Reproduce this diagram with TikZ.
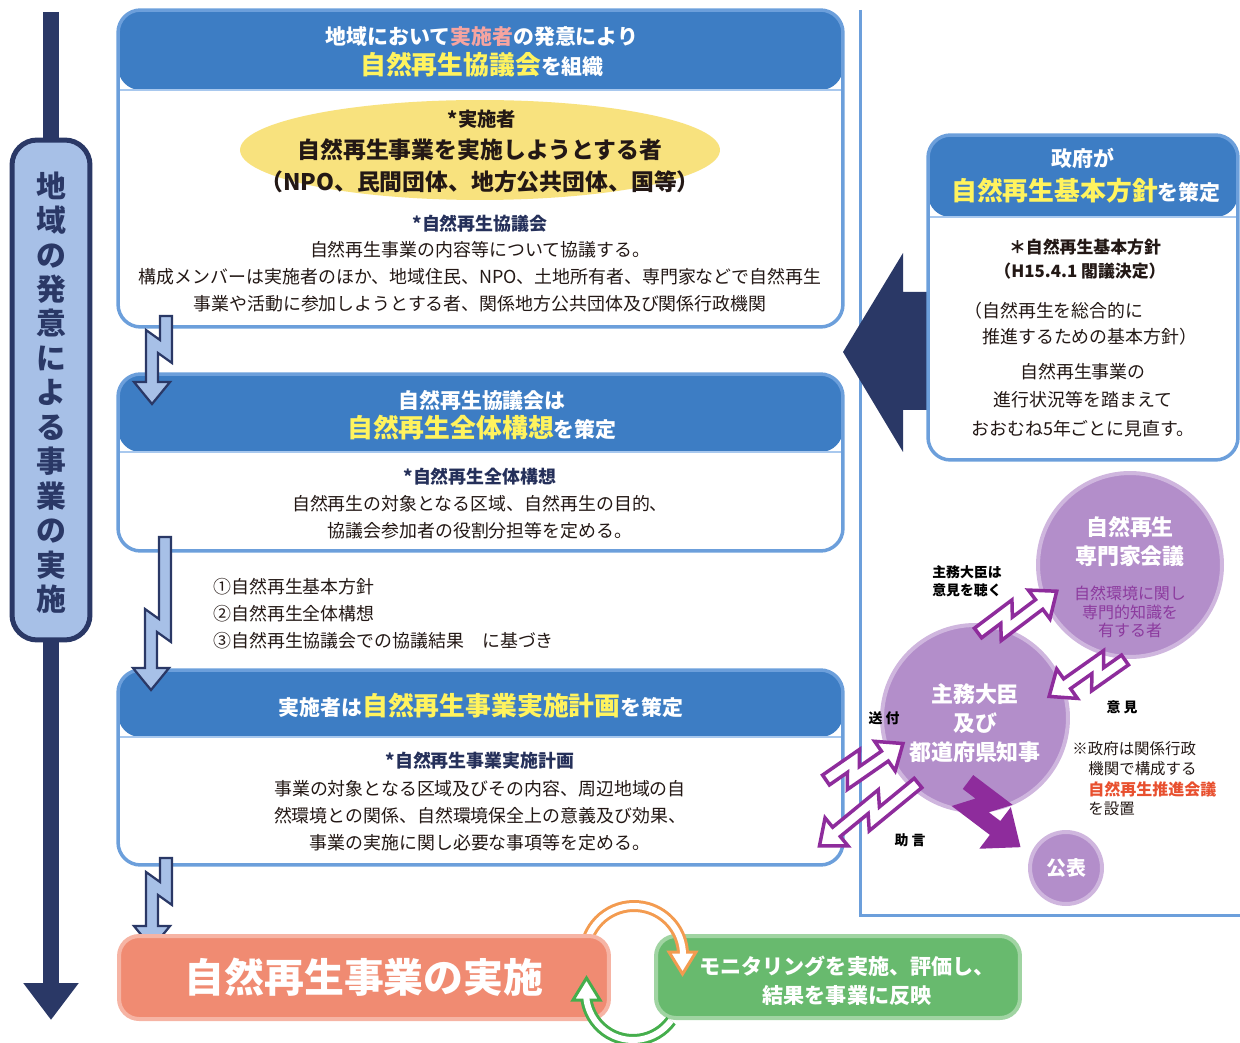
\documentclass[tikz,border=0pt]{standalone}
\usepackage{fontspec}
\setmainfont{Noto Sans CJK JP}
\usetikzlibrary{shapes.geometric,arrows.meta,calc}
\definecolor{navy}{HTML}{2A3866}
\definecolor{hdrblue}{HTML}{3D7DC4}
\definecolor{bord}{HTML}{6C9FDB}
\definecolor{hdrline}{HTML}{A8C8EE}
\definecolor{lblue}{HTML}{A7C0E7}
\definecolor{yel}{HTML}{FFF35E}
\definecolor{pinkt}{HTML}{F6A4A0}
\definecolor{ellyel}{HTML}{F8E27E}
\definecolor{txt}{HTML}{231815}
\definecolor{darknavy}{HTML}{25305A}
\definecolor{salmon}{HTML}{F08B72}
\definecolor{salmonb}{HTML}{F6B4A4}
\definecolor{grn}{HTML}{68BA6E}
\definecolor{grnb}{HTML}{A0D4A2}
\definecolor{circ}{HTML}{B38ECA}
\definecolor{circb}{HTML}{CFB6DE}
\definecolor{purp}{HTML}{8E2C9C}
\definecolor{purpt}{HTML}{8C3A9E}
\definecolor{redt}{HTML}{E8502F}
\definecolor{orarr}{HTML}{F39B50}
\definecolor{grarr}{HTML}{45AE4C}
\newcommand\ytext[1]{{\fontsize{14.7}{16}\selectfont\textcolor{yel}{#1}}}
\tikzset{
 pics/zzb/.style 2 args={code={
  \filldraw[fill=lblue, draw=navy, line width=0.045cm, line join=miter]
   (-6,0) -- (6,0) -- (6,#2+10) -- (-8,#2) -- (-8,#1-22) -- (4,#1-22) -- (-14,#1)
   -- (-32,#1-22) -- (-20,#1-22) -- (-20,#2-23) -- (-6,#2-13) -- cycle;}},
 pics/zzp/.style 2 args={code={
  \filldraw[fill=white, draw=purp, line width=0.07cm, line join=miter]
   (-6,0) -- (6,0) -- (6,#2+10) -- (-8,#2) -- (-8,#1-22) -- (4,#1-22) -- (-14,#1)
   -- (-32,#1-22) -- (-20,#1-22) -- (-20,#2-23) -- (-6,#2-13) -- cycle;}},
 pics/zzs/.style 2 args={code={
  \fill[purp]
   (-6,0) -- (6,0) -- (6,#2+10) -- (-8,#2) -- (-8,#1-22) -- (4,#1-22) -- (-14,#1)
   -- (-32,#1-22) -- (-20,#1-22) -- (-20,#2-23) -- (-6,#2-13) -- cycle;}},
}
\begin{document}
\begin{tikzpicture}[x=0.02cm, y=-0.02cm,
 bbox/.style={draw=bord, line width=0.07cm, rounded corners=0.45cm, fill=white, minimum width=14.5cm, inner sep=0pt},
 hdr/.style={path picture={
   \fill[hdrblue] (path picture bounding box.north west) rectangle ([yshift=-#1]path picture bounding box.north east);
   \draw[hdrline, line width=0.05cm] ([yshift=-#1]path picture bounding box.north west) -- ([yshift=-#1]path picture bounding box.north east);}},
 ht/.style={text=white, font=\bfseries\fontsize{11.9}{14}\selectfont, inner sep=0pt},
 eb/.style={text=txt, font=\bfseries\fontsize{13}{15}\selectfont, inner sep=0pt},
 sub/.style={text=darknavy, font=\bfseries\fontsize{10.2}{12}\selectfont, inner sep=0pt},
 body/.style={text=txt, font=\fontsize{10.2}{15.3}\selectfont, align=center, inner sep=0pt},
 gvb/.style={text=txt, font=\bfseries\fontsize{9.6}{12}\selectfont, inner sep=0pt},
 gvt/.style={text=txt, font=\fontsize{10.2}{16.4}\selectfont, inner sep=0pt, align=center},
 circn/.style={circle, fill=circ, draw=circb, line width=0.08cm, inner sep=0pt},
 ctw/.style={text=white, font=\bfseries\fontsize{12.5}{16.5}\selectfont, align=center, inner sep=0pt},
 ctp/.style={text=purpt, font=\fontsize{9.1}{10.5}\selectfont, align=center, inner sep=0pt},
 lab/.style={text=black, font=\bfseries\fontsize{7.9}{10.2}\selectfont, align=center, inner sep=0pt},
 note/.style={text=txt, font=\fontsize{8.8}{10}\selectfont, inner sep=0pt},
]
\useasboundingbox (0,0) rectangle (1240,1043);

% left timeline
\coordinate (vtop) at (51,12);
\coordinate (vend) at (51,1020);
\draw[navy, line width=0.32cm, -{Triangle[width=1.06cm, length=0.74cm]}] (vtop) -- (vend);
\node[draw=navy, fill=lblue, line width=0.1cm, rounded corners=0.5cm, minimum width=1.56cm, minimum height=10cm] (vl) at (51,390) {};
\node[text=navy, font=\bfseries\fontsize{17}{19.6}\selectfont, align=center, inner sep=0pt] (vt) at (51,392.5)
 {地\\域\\の\\発\\意\\に\\よ\\る\\事\\業\\の\\実\\施};

% right panel lines
\draw[bord, line width=0.06cm] (860,10) -- (860,915) -- (1240,915);

% big arrow from government
\fill[navy] (843,352) -- (903,253) -- (903,292) -- (935,292) -- (935,410) -- (903,410) -- (903,452) -- cycle;

% box 1
\node[bbox, minimum height=6.34cm, hdr=1.6cm] (b1) at (480.5,168.5) {};
\node[ht] (t1a) at (482,37) {地域において\textcolor{pinkt}{実施者}の発意により};
\node[ht] (t1b) at (482,65) {\ytext{自然再生協議会}を組織};
\node[ellipse, fill=ellyel, minimum width=9.6cm, minimum height=2cm, inner sep=0pt] (ell) at (480,150) {};
\node[eb, font=\bfseries\fontsize{11}{12}\selectfont] (e1) at (482,119) {*実施者};
\node[eb] (e2) at (480,150) {自然再生事業を実施しようとする者};
\node[eb] (e3) at (480,182) {（NPO、民間団体、地方公共団体、国等）};
\node[sub] (s1) at (480,224) {*自然再生協議会};
\node[body] (d1) at (480,277) {自然再生事業の内容等について協議する。\\構成メンバーは実施者のほか、地域住民、NPO、土地所有者、専門家などで自然再生\\事業や活動に参加しようとする者、関係地方公共団体及び関係行政機関};

% box 2
\node[bbox, minimum height=3.54cm, hdr=1.56cm] (b2) at (480.5,462.5) {};
\node[ht] (t2a) at (482,400) {自然再生協議会は};
\node[ht] (t2b) at (482,428) {\ytext{自然再生全体構想}を策定};
\node[sub] (s2) at (480,477) {*自然再生全体構想};
\node[body] (d2) at (480,517) {自然再生の対象となる区域、自然再生の目的、\\協議会参加者の役割分担等を定める。};

\node[body, align=left, anchor=west] (lst) at (213,614) {①自然再生基本方針\\②自然再生全体構想\\③自然再生協議会での協議結果　に基づき};

% box 3
\node[bbox, minimum height=3.9cm, hdr=1.34cm] (b3) at (480.5,767.5) {};
\node[ht] (t3) at (481,706) {実施者は\ytext{自然再生事業実施計画}を策定};
\node[sub] (s3) at (480,761) {*自然再生事業実施計画};
\node[body] (d3) at (480,816) {事業の対象となる区域及びその内容、周辺地域の自\\然環境との関係、自然環境保全上の意義及び効果、\\事業の実施に関し必要な事項等を定める。};

% government box
\node[bbox, minimum width=6.2cm, minimum height=6.5cm, hdr=1.64cm] (gv) at (1083,297.5) {};
\node[ht] (tga) at (1083,158) {政府が};
\node[ht] (tgb) at (1086,191) {\ytext{自然再生基本方針}を策定};
\node[gvb] (g1) at (1085,247) {＊自然再生基本方針};
\node[gvb] (g2) at (1080,271) {（H15.4.1 閣議決定）};
\node[gvt, anchor=west] (g3) at (964,311) {（自然再生を総合的に};
\node[gvt, anchor=west] (g4) at (982,337) {推進するための基本方針）};
\node[gvt] (g5) at (1083,400) {自然再生事業の\\進行状況等を踏まえて\\おおむね5年ごとに見直す。};

% blue step arrows
\pic at (166,316) {zzb={88}{37}};
\pic at (165,537) {zzb={153}{95}};
\pic at (166,858) {zzb={90}{37}};

% circles
\node[circn, minimum size=3.68cm] (exp) at (1130,565) {};
\node[circn, minimum size=3.72cm] (min) at (975,718) {};
\node[circn, minimum size=1.44cm, text=white, font=\bfseries\fontsize{11.3}{12}\selectfont] (pub) at (1066,868) {公表};
\node[ctw] (x1) at (1130,541.5) {自然再生\\専門家会議};
\node[ctp] (x2) at (1130,612) {自然環境に関し\\専門的知識を\\有する者};
\node[ctw] (m1) at (975,723.5) {主務大臣\\及び\\都道府県知事};

% purple arrows
\pic[rotate=127] at (978,633) {zzp={88}{37}};
\pic[rotate=-54.8] at (1125,660) {zzp={83}{35}};
\pic[rotate=124.8] at (826,780) {zzp={84}{35}};
\pic[rotate=-50.6] at (918,783) {zzp={116}{58}};
\pic[rotate=52.9, scale=1.45] at (968,782) {zzs={56}{24}};

\node[lab] (l1) at (967,581) {主務大臣は\\意見を聴く};
\node[lab] (l2) at (1122,707) {意 見};
\node[lab] (l3) at (884,718) {送 付};
\node[lab] (l4) at (910,840) {助 言};

\node[note, anchor=west] (n1) at (1072,749) {※政府は関係行政};
\node[note, anchor=west] (n2) at (1088,769) {機関で構成する};
\node[note, anchor=west, text=redt, font=\bfseries\fontsize{9.1}{10}\selectfont] (n3) at (1088,789) {自然再生推進会議};
\node[note, anchor=west] (n4) at (1088,809) {を設置};

% bottom cycle
\node[draw=grnb, fill=grn, line width=0.08cm, rounded corners=0.4cm, minimum width=7.28cm, minimum height=1.64cm] (mon) at (838,977) {};
\node[text=white, font=\bfseries\fontsize{12}{16.4}\selectfont, align=center, inner sep=0pt] (mont) at (847,981) {モニタリングを実施、評価し、\\結果を事業に反映};
\coordinate (oc) at (634,955);
\draw[orarr, line width=0.24cm] ($(oc)+(196:49)$) arc[start angle=196, end angle=356, radius=49];
\filldraw[fill=white, draw=orarr, line width=0.06cm] (669,952) -- (696,952) -- (682.5,974) -- cycle;
\draw[white, line width=0.12cm] ($(oc)+(196:49)$) arc[start angle=196, end angle=359, radius=49];
\node[draw=salmonb, fill=salmon, line width=0.08cm, rounded corners=0.4cm, minimum width=9.8cm, minimum height=1.66cm] (imp) at (364,977.5) {};
\node[text=white, font=\bfseries\fontsize{22.7}{24}\selectfont, inner sep=0pt] (impt) at (364,977) {自然再生事業の実施};
\coordinate (gc) at (633,993);
\draw[grarr, line width=0.24cm] ($(gc)+(36:47)$) arc[start angle=36, end angle=172, radius=47];
\filldraw[fill=white, draw=grarr, line width=0.06cm] (573,1000) -- (600,1000) -- (586.5,978) -- cycle;
\draw[white, line width=0.12cm] ($(gc)+(36:47)$) arc[start angle=36, end angle=176, radius=47];
\end{tikzpicture}
\end{document}
